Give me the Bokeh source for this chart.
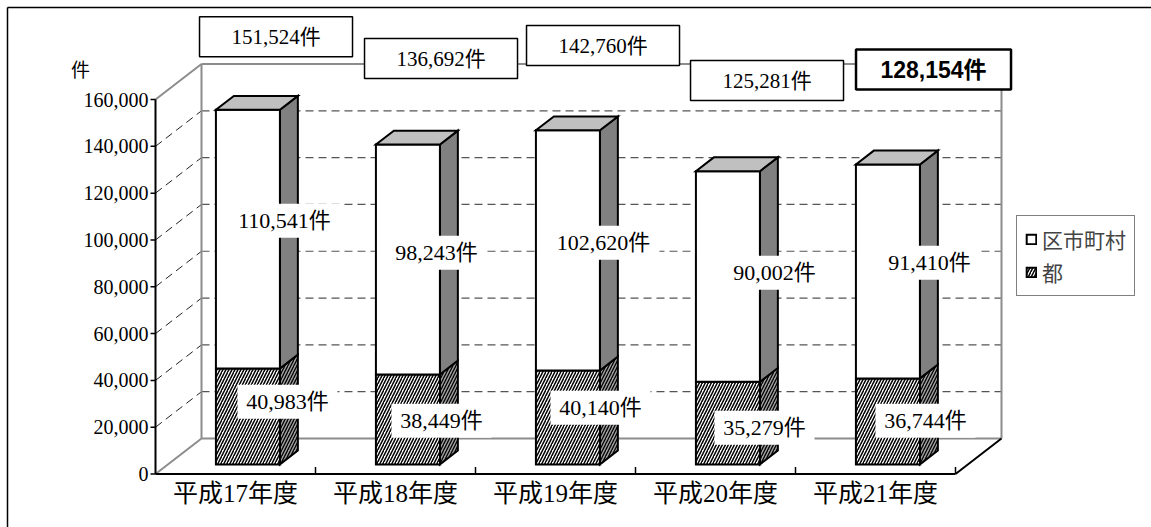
from bokeh.plotting import figure
from bokeh.models import Range1d, Legend, LegendItem
from bokeh.core.properties import value
from bokeh.embed import file_html
from bokeh.resources import INLINE

# ---------------- data ----------------
categories = ["平成17年度", "平成18年度", "平成19年度", "平成20年度", "平成21年度"]
series_names = ["区市町村", "都"]
to_values = [40983, 38449, 40140, 35279, 36744]             # 都 (lower)
city_values = [110541, 98243, 102620, 90002, 91410]         # 区市町村 (upper)
totals = [151524, 136692, 142760, 125281, 128154]
y_ticks = [0, 20000, 40000, 60000, 80000, 100000, 120000, 140000, 160000]
y_tick_labels = ["0", "20,000", "40,000", "60,000", "80,000", "100,000",
                 "120,000", "140,000", "160,000"]
unit = "件"

# ---------------- layout (pixels) ----------------
W, H = 1151, 527
X0, Y0 = 155.0, 473.5            # front origin of axes
PX_CAT = 160.0                   # px per category
PX_VAL = 374.5 / 160000.0        # px per unit value
DEPTH_PX = (46.0, -35.5)         # full depth of the 3D box
BAR_W = 0.4
F1, F2 = 0.27, 0.66              # bar front / back depth fractions
FM = (F1 + F2) / 2

# per-label pixel offsets (from mid-depth segment centre)
upper_off = [(27.6, -11.5), (19.6, 0.2), (26.6, -0.8), (37.6, 3.1), (32.6, -1.8)]
lower_off = [(30.6, -7.8), (24.6, 8.2), (23.6, -2.8), (27.6, 11.5), (28.6, 6.2)]
# total box offsets from front-top of bar
total_off = [(28.1, -73.1), (33.1, -85.9), (35.1, -84.7), (39.1, -90.6), (45.6, -94.9)]

SERIF = "'Liberation Serif', 'Noto Sans CJK JP', serif"
SANS = "'Liberation Sans', 'Noto Sans CJK JP', sans-serif"


def ddx(px):
    return px / PX_CAT


def ddy(py):
    return -py / PX_VAL


DXD, DYD = ddx(DEPTH_PX[0]), ddy(DEPTH_PX[1])


def proj(x, y, f):
    return x + f * DXD, y + f * DYD


p = figure(width=W, height=H, output_backend="svg", toolbar_location=None,
           x_range=Range1d(-X0 / PX_CAT, (W - X0) / PX_CAT),
           y_range=Range1d(-(H - Y0) / PX_VAL, Y0 / PX_VAL),
           x_axis_location=None, y_axis_location=None, min_border=0)
p.grid.visible = False
p.outline_line_color = None
p.background_fill_color = "white"
p.border_fill_color = "white"

n = len(categories)
top_v = y_ticks[-1]

# outer frame (left & top edges visible)
p.segment(x0=[ddx(7 - X0)], y0=[ddy(7 - Y0)], x1=[ddx(7 - X0)], y1=[ddy(H + 5 - Y0)],
          line_color="black", line_width=1.5)
p.segment(x0=[ddx(7 - X0)], y0=[ddy(7 - Y0)], x1=[ddx(W + 5 - X0)], y1=[ddy(7 - Y0)],
          line_color="black", line_width=1.5)

# dashed gridlines: back wall and left wall
gx0, gy0, gx1, gy1 = [], [], [], []
lx0, ly0, lx1, ly1 = [], [], [], []
for t in y_ticks[1:-1]:
    a = proj(0, t, 1)
    b = proj(n, t, 1)
    gx0.append(a[0]); gy0.append(a[1]); gx1.append(b[0]); gy1.append(b[1])
    lx0.append(0); ly0.append(t); lx1.append(a[0]); ly1.append(a[1])
p.segment(gx0, gy0, gx1, gy1, line_color="#555555", line_width=1.2, line_dash="8 5")
p.segment(lx0, ly0, lx1, ly1, line_color="#222222", line_width=1, line_dash="8 5")

# gray wall edges
edges = [((0, top_v, 0), (0, top_v, 1)),
         ((0, top_v, 1), (n, top_v, 1)),
         ((0, 0, 1), (0, top_v, 1)),
         ((n, 0, 1), (n, top_v, 1)),
         ((0, 0, 1), (n, 0, 1)),
         ((0, 0, 0), (0, 0, 1))]
ex0, ey0, ex1, ey1 = [], [], [], []
for (xa, ya, fa), (xb, yb, fb) in edges:
    a = proj(xa, ya, fa); b = proj(xb, yb, fb)
    ex0.append(a[0]); ey0.append(a[1]); ex1.append(b[0]); ey1.append(b[1])
p.segment(ex0, ey0, ex1, ey1, line_color="#8c8c8c", line_width=2)

# black axes
fr = proj(n, 0, 1)
p.segment([0, 0, n], [0, 0, 0], [0, n, fr[0]], [top_v, 0, fr[1]],
          line_color="black", line_width=2)
p.segment(list(range(1, n + 1)), [0] * n, list(range(1, n + 1)), [ddy(-7)] * n,
          line_color="black", line_width=1.5)
p.segment([ddx(-5)] * len(y_ticks), y_ticks, [0] * len(y_ticks), y_ticks,
          line_color="black", line_width=1.5)

# ---------------- bars ----------------
def front_face(c, y0, y1):
    xl, xr = c - BAR_W / 2, c + BAR_W / 2
    pts = [proj(xl, y0, F1), proj(xr, y0, F1), proj(xr, y1, F1), proj(xl, y1, F1)]
    return [q[0] for q in pts], [q[1] for q in pts]


def side_face(c, y0, y1):
    xr = c + BAR_W / 2
    pts = [proj(xr, y0, F1), proj(xr, y0, F2), proj(xr, y1, F2), proj(xr, y1, F1)]
    return [q[0] for q in pts], [q[1] for q in pts]


def top_face(c, yt):
    xl, xr = c - BAR_W / 2, c + BAR_W / 2
    pts = [proj(xl, yt, F1), proj(xr, yt, F1), proj(xr, yt, F2), proj(xl, yt, F2)]
    return [q[0] for q in pts], [q[1] for q in pts]


lf_x, lf_y, ls_x, ls_y, uf_x, uf_y, us_x, us_y, t_x, t_y = ([] for _ in range(10))
for i in range(n):
    c = i + 0.5
    lo = to_values[i]
    hi = to_values[i] + city_values[i]
    a, b = front_face(c, 0, lo); lf_x.append(a); lf_y.append(b)
    a, b = side_face(c, 0, lo); ls_x.append(a); ls_y.append(b)
    a, b = front_face(c, lo, hi); uf_x.append(a); uf_y.append(b)
    a, b = side_face(c, lo, hi); us_x.append(a); us_y.append(b)
    a, b = top_face(c, hi); t_x.append(a); t_y.append(b)

common = dict(line_color="black", line_width=2, line_join="miter")
p.patches(ls_x, ls_y, fill_color="#a0a0a0", hatch_pattern="/", hatch_color="black",
          hatch_scale=6, hatch_weight=1.3, **common)
r_low = p.patches(lf_x, lf_y, fill_color="white", hatch_pattern="/", hatch_color="black",
                  hatch_scale=6, hatch_weight=1.5, **common)
p.patches(us_x, us_y, fill_color="#808080", **common)
r_up = p.patches(uf_x, uf_y, fill_color="white", **common)
p.patches(t_x, t_y, fill_color="#c0c0c0", **common)

# ---------------- segment labels ----------------
sx, sy, stxt, sw = [], [], [], []
for i in range(n):
    c = i + 0.5
    for v_lo, v_hi, off in ((0, to_values[i], lower_off[i]),
                            (to_values[i], to_values[i] + city_values[i], upper_off[i])):
        cx, cy = proj(c, (v_lo + v_hi) / 2, FM)
        sx.append(cx + ddx(off[0])); sy.append(cy + ddy(off[1]))
        txt = f"{v_hi - v_lo:,}{unit}"
        stxt.append(txt)
        sw.append(12 * len(txt) + 16)
p.rect(sx, sy, width=sw, height=34, width_units="screen", height_units="screen",
       fill_color="white", line_color=None)
p.text(sx, sy, text=stxt, text_align="center", text_baseline="middle",
       text_font=value(SERIF), text_font_size="22px", text_color="black")

# ---------------- total boxes ----------------
bx, by, btxt = [], [], []
for i in range(n):
    c = i + 0.5
    fx, fy = proj(c, totals[i], F1)
    bx.append(fx + ddx(total_off[i][0])); by.append(fy + ddy(total_off[i][1]))
    btxt.append(f"{totals[i]:,}{unit}")
p.rect(bx[:-1], by[:-1], width=153, height=40, width_units="screen", height_units="screen",
       fill_color="white", line_color="black", line_width=1.5)
p.rect(bx[-1:], by[-1:], width=155, height=40, width_units="screen", height_units="screen",
       fill_color="white", line_color="black", line_width=2.5)
p.text(bx[:-1], by[:-1], text=btxt[:-1], text_align="center", text_baseline="middle",
       text_font=value(SERIF), text_font_size="21px", text_color="black")
p.text(bx[-1:], by[-1:], text=btxt[-1:], text_align="center", text_baseline="middle",
       text_font=value(SANS), text_font_size="23px", text_font_style="bold", text_color="black")

# ---------------- axis texts ----------------
p.text([ddx(-5)] * len(y_ticks), y_ticks, text=y_tick_labels, text_align="right",
       text_baseline="middle", text_font=value(SERIF), text_font_size="20px",
       x_offset=-2)
p.text([ddx(80 - X0)], [ddy(70 - Y0)], text=[unit], text_align="center",
       text_baseline="middle", text_font=value(SERIF), text_font_size="19px")
p.text([i + 0.5 for i in range(n)], [ddy(19)] * n, text=categories, text_align="center",
       text_baseline="middle", text_font=value(SERIF), text_font_size="25px")

# ---------------- legend ----------------
legend = Legend(items=[LegendItem(label=series_names[0], renderers=[r_up]),
                       LegendItem(label=series_names[1], renderers=[r_low])],
                location=(1016, H - 296), orientation="vertical",
                border_line_color="black", border_line_width=1,
                background_fill_color="white", background_fill_alpha=1,
                label_text_font=SERIF, label_text_font_size="21px",
                glyph_width=12, glyph_height=12, label_standoff=5,
                padding=8, spacing=3, margin=0, label_height=24)
p.add_layout(legend)

open("out.html", "w").write(file_html(p, INLINE))
